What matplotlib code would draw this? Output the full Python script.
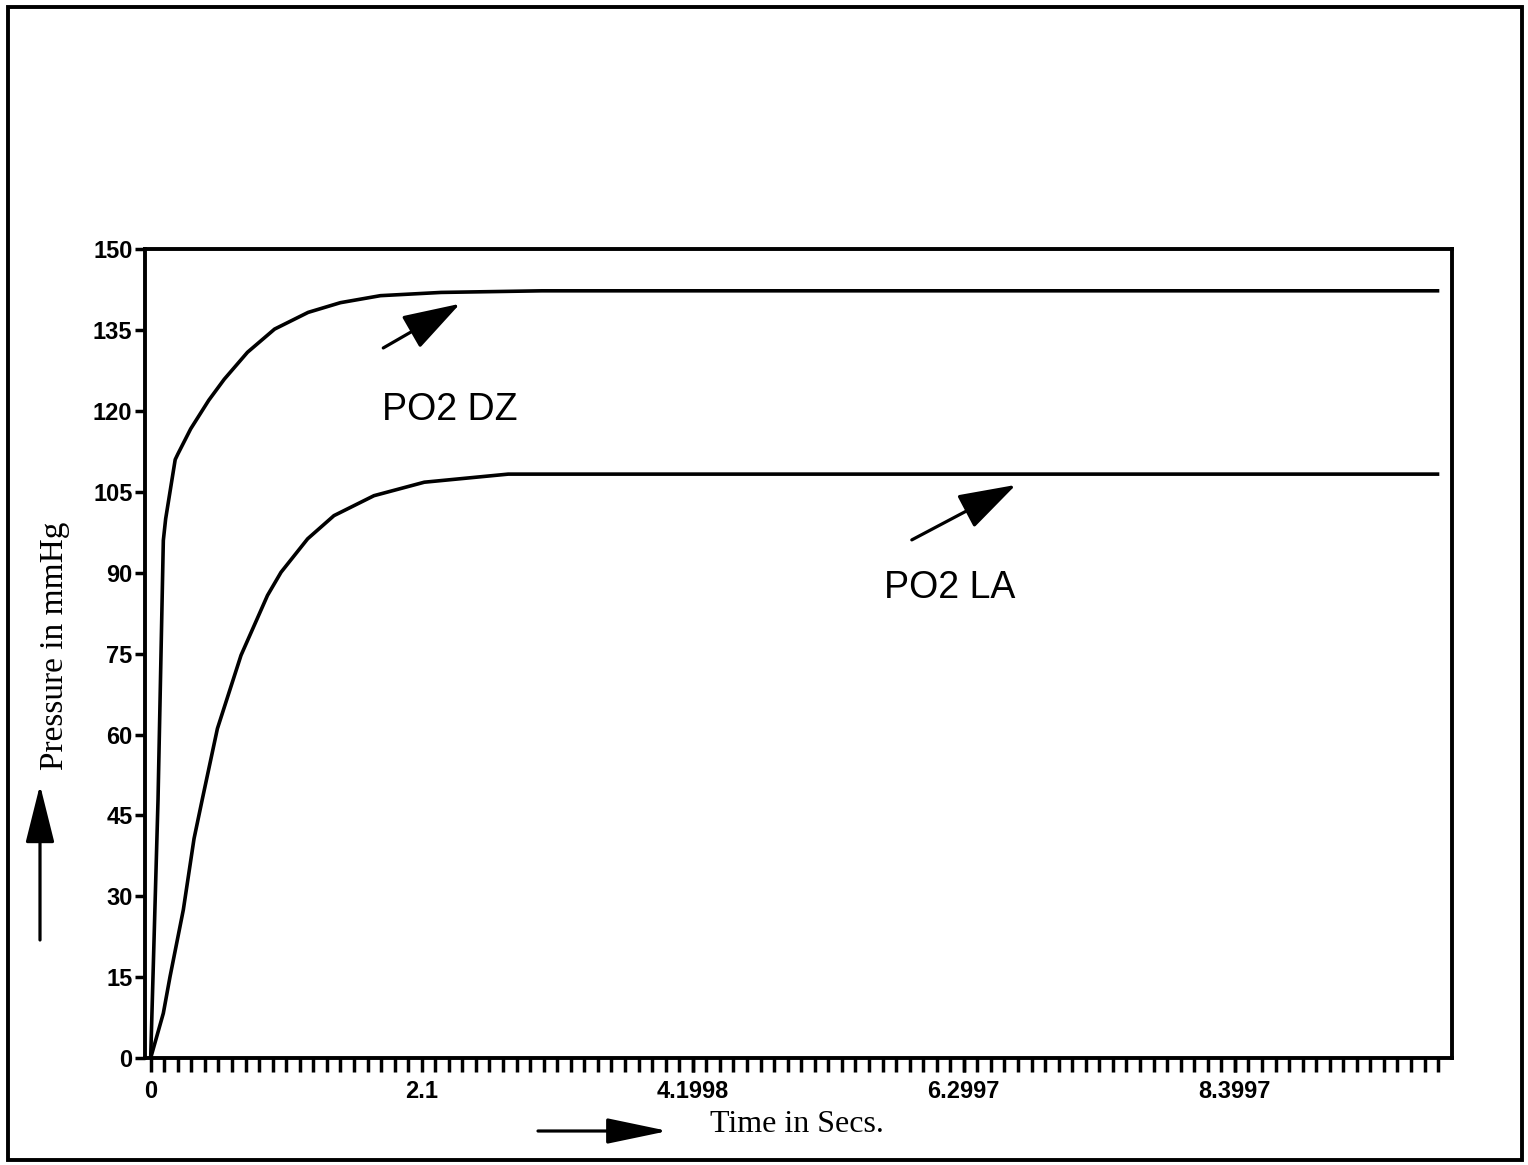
import numpy as np
import matplotlib
matplotlib.use('Agg')
import matplotlib.pyplot as plt
from matplotlib.patches import Rectangle
from matplotlib.ticker import FixedLocator

# PO2 in dead zone
dz_time = [0, 0.057, 0.098, 0.116, 0.19, 0.21, 0.31, 0.45, 0.57, 0.75, 0.96, 1.22, 1.47, 1.78, 2.25, 3.03, 9.97]
dz_po2 = [0, 48, 96, 100, 111, 112, 116.7, 122, 125.9, 130.9, 135.2, 138.3, 140.1, 141.4, 142.0, 142.3, 142.3]

# PO2 in left atrium
la_time = [0, 0.098, 0.15, 0.253, 0.336, 0.40, 0.517, 0.70, 0.905, 1.01, 1.216, 1.42, 1.73, 2.12, 2.51, 2.77, 9.97]
la_po2 = [0, 8.3, 15.1, 27.5, 40.7, 48, 61.1, 74.7, 85.8, 90.1, 96.3, 100.6, 104.3, 106.8, 107.7, 108.3, 108.3]

x_ticks = [0, 2.1, 4.1998, 6.2997, 8.3997]
x_labels = ['0', '2.1', '4.1998', '6.2997', '8.3997']
y_ticks = [0, 15, 30, 45, 60, 75, 90, 105, 120, 135, 150]

W, H = 1528, 1165
fig = plt.figure(figsize=(W / 100, H / 100), dpi=100)
ax = fig.add_axes([145 / W, 1 - 1058 / H, (1451.7 - 145) / W, (1058 - 249.3) / H])

ax.plot(dz_time, dz_po2, color='black', lw=2.6, solid_joinstyle='round')
ax.plot(la_time, la_po2, color='black', lw=2.6, solid_joinstyle='round')

ax.set_xlim(-0.044, 10.08)
ax.set_ylim(0, 150)

for s in ax.spines.values():
    s.set_linewidth(2.8)

ax.set_xticks(x_ticks)
ax.set_xticklabels(x_labels)
ax.xaxis.set_minor_locator(FixedLocator(np.arange(0, 96) * 0.105))
ax.set_yticks(y_ticks)
ax.set_yticklabels([str(v) for v in y_ticks])
ax.tick_params(axis='x', which='both', direction='out', length=10, width=2.5, pad=6)
ax.tick_params(axis='y', which='both', direction='out', length=7, width=2.5, pad=2)
for lab in ax.get_xticklabels() + ax.get_yticklabels():
    lab.set_fontfamily('Liberation Sans')
    lab.set_fontweight('bold')
    lab.set_fontsize(17)

# curve labels with arrows
head = dict(arrowstyle='-|>,head_length=1.0,head_width=0.32', color='black', lw=2.3,
            mutation_scale=36, shrinkA=0, shrinkB=0)
ax.annotate('', xy=(2.397, 139.9), xytext=(1.802, 131.7), arrowprops=head)
ax.annotate('', xy=(6.703, 106.3), xytext=(5.897, 96.1), arrowprops=head)
ax.text(2.32, 120.2, 'PO2 DZ', ha='center', va='center', fontsize=27, family='Liberation Sans')
ax.text(6.19, 87.2, 'PO2 LA', ha='center', va='center', fontsize=27, family='Liberation Sans')

# axis titles with arrows
fig.text(710 / W, 1 - 1125 / H, 'Time in Secs.', ha='left', va='center', fontsize=23, family='Liberation Serif')
fig.text(55 / W, 1 - 646 / H, 'Pressure in mmHg', ha='center', va='center', rotation=90,
         fontsize=24, family='Liberation Serif')
ax.annotate('', xy=(668, H - 1131), xytext=(538, H - 1131), xycoords='figure pixels',
            textcoords='figure pixels',
            arrowprops=dict(arrowstyle='-|>,head_length=1.05,head_width=0.22', color='black', lw=2.3,
                            mutation_scale=36, shrinkA=0, shrinkB=0))
ax.annotate('', xy=(40, H - 785), xytext=(40, H - 940), xycoords='figure pixels',
            textcoords='figure pixels',
            arrowprops=dict(arrowstyle='-|>,head_length=1.0,head_width=0.25', color='black', lw=2.3,
                            mutation_scale=36, shrinkA=0, shrinkB=0))

# outer frame
fig.add_artist(Rectangle((8 / W, 5 / H), (1522 - 8) / W, (1158 - 5) / H, transform=fig.transFigure,
                         fill=False, lw=2.8, edgecolor='black'))

fig.savefig('out.png', dpi=100)
